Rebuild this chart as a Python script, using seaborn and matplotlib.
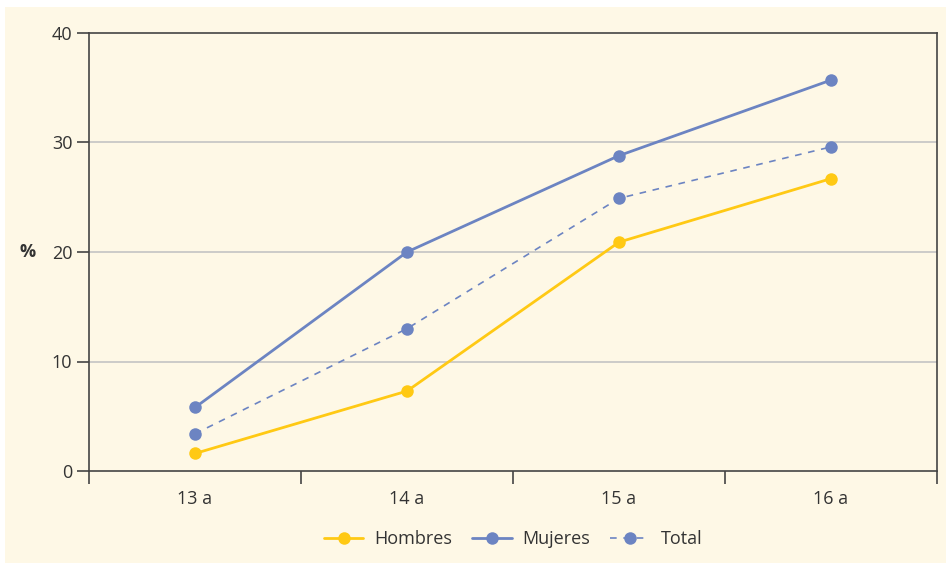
import matplotlib
matplotlib.use("Agg")
import matplotlib.pyplot as plt
from matplotlib.patches import Rectangle
from matplotlib.ticker import FixedLocator
import seaborn as sns
import pandas as pd

edades = ["13 a", "14 a", "15 a", "16 a"]
hombres = [1.6, 7.3, 20.9, 26.7]
mujeres = [5.8, 20.0, 28.8, 35.7]
total = [3.4, 13.0, 24.9, 29.6]
series = ["Hombres", "Mujeres", "Total"]

amarillo = "#FFC914"
azul = "#6C84C2"
fondo = "#FEF8E6"

sns.set_theme(style="white")
plt.rcParams["font.family"] = ["Open Sans", "DejaVu Sans"]

df = pd.DataFrame({
    "pos": list(range(len(edades))) * 3,
    "valor": hombres + mujeres + total,
    "serie": [s for s in series for _ in edades],
})

fig = plt.figure(figsize=(9.46, 5.65), dpi=100, facecolor="white")
fig.patches.append(Rectangle((5 / 946, 0.0035), 1 - 5 / 946, 1 - 7 / 565 - 0.0035,
                             transform=fig.transFigure, facecolor=fondo,
                             edgecolor="none", zorder=-10))
ax = fig.add_axes([89 / 946, 94 / 565, 848 / 946, 438 / 565])
ax.set_facecolor(fondo)

sns.lineplot(data=df, x="pos", y="valor", hue="serie", style="serie",
             palette={"Hombres": amarillo, "Mujeres": azul, "Total": azul},
             dashes={"Hombres": "", "Mujeres": "", "Total": (4, 4)},
             markers={"Hombres": "o", "Mujeres": "o", "Total": "o"},
             linewidth=2.0, markersize=9, markeredgewidth=0, ax=ax)
for line in ax.lines:
    if line.get_linestyle() == "--":
        line.set_linewidth(1.2)

ax.set_xlim(-0.5, len(edades) - 0.5)
ax.set_ylim(0, 40)
ax.set_yticks([0, 10, 20, 30, 40])
ax.set_xticks(range(len(edades)))
ax.set_xticklabels(edades)
ax.xaxis.set_minor_locator(FixedLocator([i - 0.5 for i in range(len(edades) + 1)]))
ax.tick_params(axis="x", which="major", bottom=True, length=0, pad=14, labelsize=13,
               colors="#333333")
ax.tick_params(axis="x", which="minor", bottom=True, length=9, width=1.2, color="#444444",
               direction="out")
ax.tick_params(axis="y", which="major", left=True, length=9, width=1.2, color="#444444",
               direction="out", labelsize=13, labelcolor="#333333", pad=3)
for v in [10, 20, 30]:
    ax.axhline(v, color="#C4C4C4", linewidth=1.2, zorder=0)
for s in ax.spines.values():
    s.set_color("#444444")
    s.set_linewidth(1.2)

ax.set_xlabel("")
ax.set_ylabel("")
ax.text(-0.072, 20, "%", transform=ax.get_yaxis_transform(), ha="center", va="center",
        fontsize=13, fontweight="bold", color="#333333")

handles, labels = ax.get_legend_handles_labels()
leg = ax.legend(handles, labels, loc="center", bbox_to_anchor=(0.5, -0.155), ncol=3,
                frameon=False, fontsize=13, handlelength=2.2, columnspacing=1.1,
                handletextpad=0.6)
for t in leg.get_texts():
    t.set_color("#333333")

fig.savefig("out.png", dpi=100, facecolor="white")
